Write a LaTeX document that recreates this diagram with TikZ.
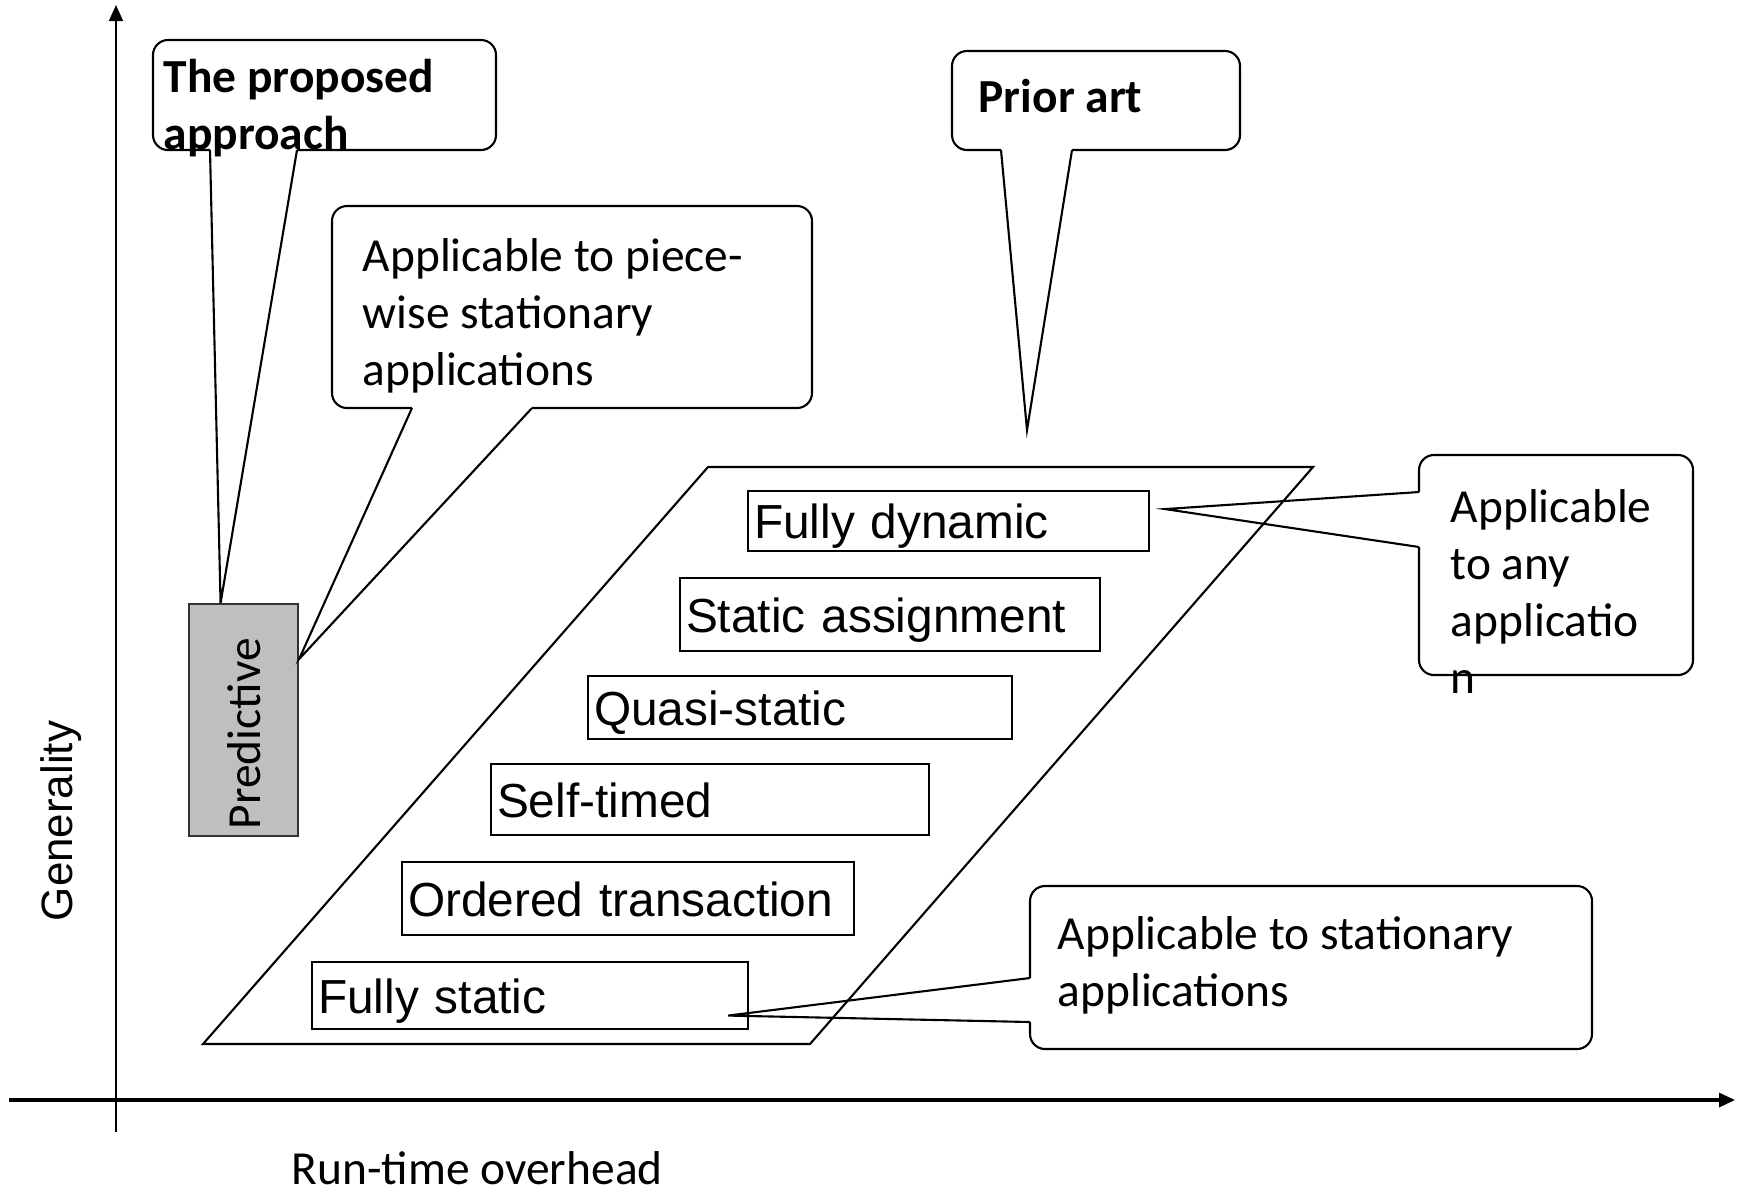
\documentclass[tikz,border=0pt]{standalone}
\usepackage{fontspec}
\setmainfont{Carlito}
\newfontfamily\arialfont{Liberation Sans}
\usetikzlibrary{arrows.meta}

\begin{document}
\begin{tikzpicture}[x=0.1mm,y=-0.1mm,
  every node/.style={font=\fontsize{13.5}{16.2}\selectfont},
  axis/.style={line width=#1,-{Triangle[length=1.6mm,width=1.4mm]}},
  bubble/.style={draw,line width=0.6pt,rounded corners=1.5mm},
  tail/.style={draw,line width=0.6pt},
  stage/.style={draw,line width=0.6pt,anchor=north west,align=left,
    inner xsep=0.6mm,inner ysep=0pt,text height=10.2pt,text depth=0pt,
    font=\arialfont\fontsize{13.6}{16}\selectfont},
  predbox/.style={draw=black!80,fill=black!25,line width=0.6pt,anchor=north west,inner sep=0pt},
  label/.style={anchor=base west,align=left,inner sep=0pt}]
 \useasboundingbox (0,0) rectangle (1737,1193);

 % axes
 \coordinate (xs) at (9,1100);
 \coordinate (xe) at (1735,1100);
 \coordinate (ys) at (116,1132);
 \coordinate (ye) at (116,5);
 \draw[axis=0.9pt] (xs) -- (xe);
 \draw[axis=0.5pt] (ys) -- (ye);
 \node[font=\arialfont\fontsize{12.5}{15}\selectfont,rotate=90,anchor=base,inner sep=0pt] (ylbl) at (72,821) {Generality};
 \node[label] (xlbl) at (291,1184) {Run-time overhead};

 % prior-art region
 \draw[line width=0.6pt] (203,1044) -- (708,467) -- (1313,467) -- (810,1044) -- cycle;
 \node[stage,minimum height=6mm,text width=38.9mm] (fdyn) at (747,490) {Fully dynamic};
 \node[stage,minimum height=7.3mm,text width=40.8mm] (sass) at (679,577) {Static assignment};
 \node[stage,minimum height=6.3mm,text width=41.2mm] (qsta) at (587,675) {Quasi-static};
 \node[stage,minimum height=7.1mm,text width=42.6mm] (stim) at (490,763) {Self-timed};
 \node[stage,minimum height=7.3mm,text width=44mm] (otra) at (401,861) {Ordered transaction};
 \node[stage,minimum height=6.7mm,text width=42.4mm] (fsta) at (311,961) {Fully static};

 % the new method
 \node[predbox,minimum width=10.9mm,minimum height=23.2mm] (pred) at (188,603) {};
 \node[rotate=90,anchor=base west,inner sep=0pt] (predlbl) at (260,830) {Predictive};

 % callouts: rounded box, then the pointer
 \coordinate (pritip) at (1027,430);
 \draw[bubble] (297,150) -| (496,40) -| (153,150) -- (210,150);
 \draw[tail] (210,150) -- ([xshift=-2.3mm]pred.north) -- (297,150);
 \draw[bubble] (532,408) -| (812,206) -| (332,408) -- (412,408);
 \draw[tail] (412,408) -- ([yshift=6.1mm]pred.east) -- (532,408);
 \draw[bubble] (1072,150) -| (1240,51) -| (952,150) -- (1001,150);
 \draw[tail] (1001,150) -- (pritip) -- (1072,150);
 \draw[bubble] (1419,547) |- (1693,675) |- (1419,455) -- (1419,492);
 \draw[tail] (1419,492) -- ([xshift=1.5mm,yshift=1.2mm]fdyn.east) -- (1419,547);
 \draw[bubble] (1030,1022) |- (1592,1049) |- (1030,886) -- (1030,978);
 \draw[tail] (1030,978) -- ([xshift=-2.1mm,yshift=-2mm]fsta.east) -- (1030,1022);

 \node[label,font=\bfseries\fontsize{13.5}{16.2}\selectfont] (proplbl) at (163,149) {The proposed\\approach};
 \node[label,font=\bfseries\fontsize{13.5}{16.2}\selectfont] (prilbl) at (978,112) {Prior art};
 \node[label] (pwlbl) at (362,385) {Applicable to piece-\\wise stationary\\applications};
 \node[label] (anylbl) at (1450,693) {Applicable\\to any\\applicatio\\n};
 \node[label] (statlbl) at (1057,1006) {Applicable to stationary\\applications};
\end{tikzpicture}
\end{document}
